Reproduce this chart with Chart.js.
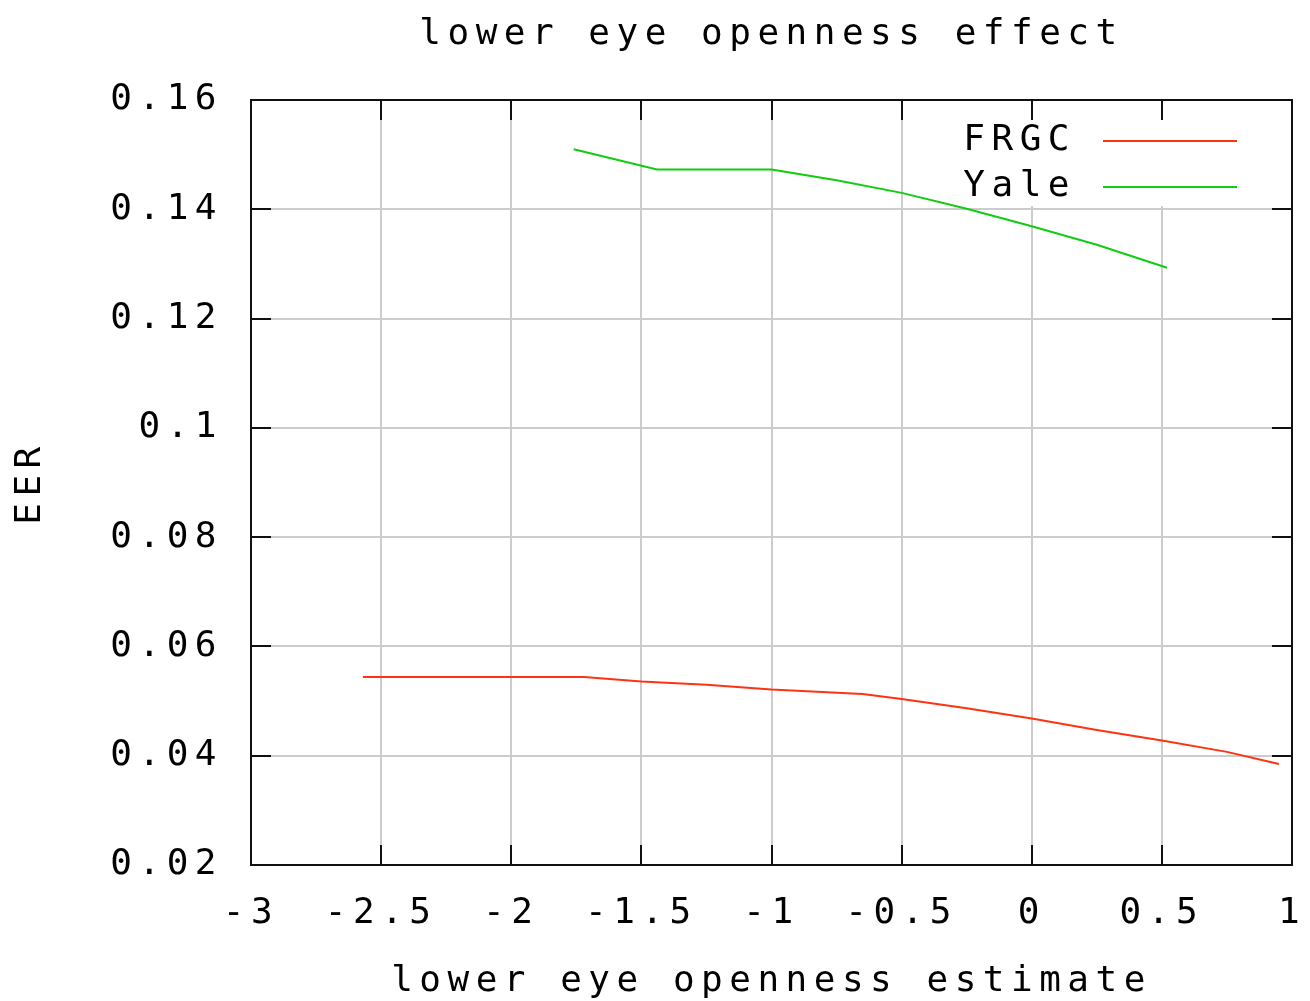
<!DOCTYPE html>
<html>
<head>
<meta charset="utf-8">
<script src="https://cdn.jsdelivr.net/npm/chart.js@4.4.1/dist/chart.umd.min.js"></script>
<style>
  html, body { margin: 0; padding: 0; background: #fff; }
  #wrap { width: 1310px; height: 1001px; }
</style>
</head>
<body>
<div id="wrap"><canvas id="chart"></canvas></div>
<script>
// values
var frgc_x = [-2.57, -1.72, -1.5, -1.25, -1.0, -0.65, -0.5, -0.25, 0.0, 0.25, 0.5, 0.75, 0.95]
var frgc_y = [0.0544, 0.0544, 0.0536, 0.0530, 0.0521, 0.0513, 0.0504, 0.0487, 0.0468, 0.0447, 0.0428, 0.0407, 0.0385]
var yale_x = [-1.76, -1.44, -1.0, -0.75, -0.5, -0.25, 0.0, 0.25, 0.52]
var yale_y = [0.1510, 0.1473, 0.1473, 0.1453, 0.1430, 0.1401, 0.1369, 0.1335, 0.1293]

var x_tick_labels = ['-3', '-2.5', '-2', '-1.5', '-1', '-0.5', '0', '0.5', '1']
var y_tick_labels = ['0.02', '0.04', '0.06', '0.08', '0.1', '0.12', '0.14', '0.16']

var series_names = ['FRGC', 'Yale']
var series_colors = ['#ff3311', '#11cc11']

const FONT = 'DejaVu Sans Mono'
const SPACING = '6.5px'

function toPoints(xs, ys) {
    return xs.map((x, i) => ({x: x, y: ys[i]}))
}

// gnuplot style: spaced glyphs, inward ticks on all four sides, full border, legend inside
const gnuplotLook = {
    id: 'gnuplotLook',
    beforeDraw(chart) {
        chart.ctx.letterSpacing = SPACING
    },
    beforeDatasetsDraw(chart) {
        // opaque key background hides the grid, the curves still go over it
        const ctx = chart.ctx
        ctx.save()
        ctx.fillStyle = '#fff'
        ctx.fillRect(952, 120, 292, 86)
        ctx.restore()
    },
    afterDraw(chart) {
        const ctx = chart.ctx
        const a = chart.chartArea
        const xs = chart.scales.x, ys = chart.scales.y
        ctx.save()
        ctx.strokeStyle = '#111'
        ctx.lineWidth = 2
        ctx.beginPath()
        xs.ticks.forEach(t => {
            const px = Math.round(xs.getPixelForValue(t.value))
            ctx.moveTo(px, a.bottom); ctx.lineTo(px, a.bottom - 20)
            ctx.moveTo(px, a.top); ctx.lineTo(px, a.top + 20)
        })
        ys.ticks.forEach(t => {
            const py = Math.round(ys.getPixelForValue(t.value))
            ctx.moveTo(a.left, py); ctx.lineTo(a.left + 20, py)
            ctx.moveTo(a.right, py); ctx.lineTo(a.right - 20, py)
        })
        ctx.stroke()
        ctx.strokeRect(a.left, a.top, a.right - a.left, a.bottom - a.top)

        // key
        ctx.font = '36px "' + FONT + '"'
        ctx.letterSpacing = SPACING
        ctx.textAlign = 'right'
        ctx.textBaseline = 'middle'
        series_names.forEach((name, i) => {
            const y = 141 + i * 46
            ctx.fillStyle = '#000'
            ctx.fillText(name, 1076, y)
            ctx.strokeStyle = series_colors[i]
            ctx.lineWidth = 2
            ctx.beginPath()
            ctx.moveTo(1103, y); ctx.lineTo(1237, y)
            ctx.stroke()
        })
        ctx.restore()
    }
}

new Chart(document.getElementById('chart').getContext('2d'), {
    type: 'scatter',
    data: {
        datasets: [
            {
                label: series_names[0],
                data: toPoints(frgc_x, frgc_y),
                showLine: true,
                borderColor: series_colors[0],
                borderWidth: 2,
                pointRadius: 0,
                tension: 0
            },
            {
                label: series_names[1],
                data: toPoints(yale_x, yale_y),
                showLine: true,
                borderColor: series_colors[1],
                borderWidth: 2,
                pointRadius: 0,
                tension: 0
            }
        ]
    },
    options: {
        responsive: true,
        maintainAspectRatio: false,
        animation: false,
        layout: { padding: { left: 0, right: 18, top: 0, bottom: 0 } },
        plugins: {
            legend: { display: false },
            tooltip: { enabled: false },
            title: {
                display: true,
                fullSize: false,
                text: 'lower eye openness effect',
                color: '#000',
                font: { family: FONT, size: 36, weight: 'normal', lineHeight: 1 },
                padding: { top: 17, bottom: 47 }
            }
        },
        scales: {
            x: {
                type: 'linear',
                min: -3,
                max: 1,
                afterFit: s => { s.height = 136; s.paddingLeft = 0; s.paddingRight = 0 },
                ticks: {
                    stepSize: 0.5,
                    autoSkip: false,
                    maxRotation: 0,
                    padding: 31,
                    color: '#000',
                    font: { family: FONT, size: 36, lineHeight: 1 },
                    callback: (value, index) => x_tick_labels[index]
                },
                grid: { color: '#cccccc', lineWidth: 2, drawTicks: false },
                border: { color: '#111', width: 2 },
                title: {
                    display: true,
                    text: 'lower eye openness estimate',
                    color: '#000',
                    font: { family: FONT, size: 36, lineHeight: 1 },
                    padding: { top: 0, bottom: 1 }
                }
            },
            y: {
                type: 'linear',
                min: 0.02,
                max: 0.16,
                afterFit: s => { s.width = 251; s.paddingTop = 0; s.paddingBottom = 0 },
                ticks: {
                    stepSize: 0.02,
                    padding: 28,
                    color: '#000',
                    font: { family: FONT, size: 36, lineHeight: 1 },
                    callback: (value, index) => y_tick_labels[index]
                },
                grid: { color: '#cccccc', lineWidth: 2, drawTicks: false },
                border: { color: '#111', width: 2 },
                title: {
                    display: true,
                    text: 'EER',
                    color: '#000',
                    font: { family: FONT, size: 36, lineHeight: 1 },
                    padding: { top: 13, bottom: 0 }
                }
            }
        }
    },
    plugins: [gnuplotLook]
});
</script>
</body>
</html>
